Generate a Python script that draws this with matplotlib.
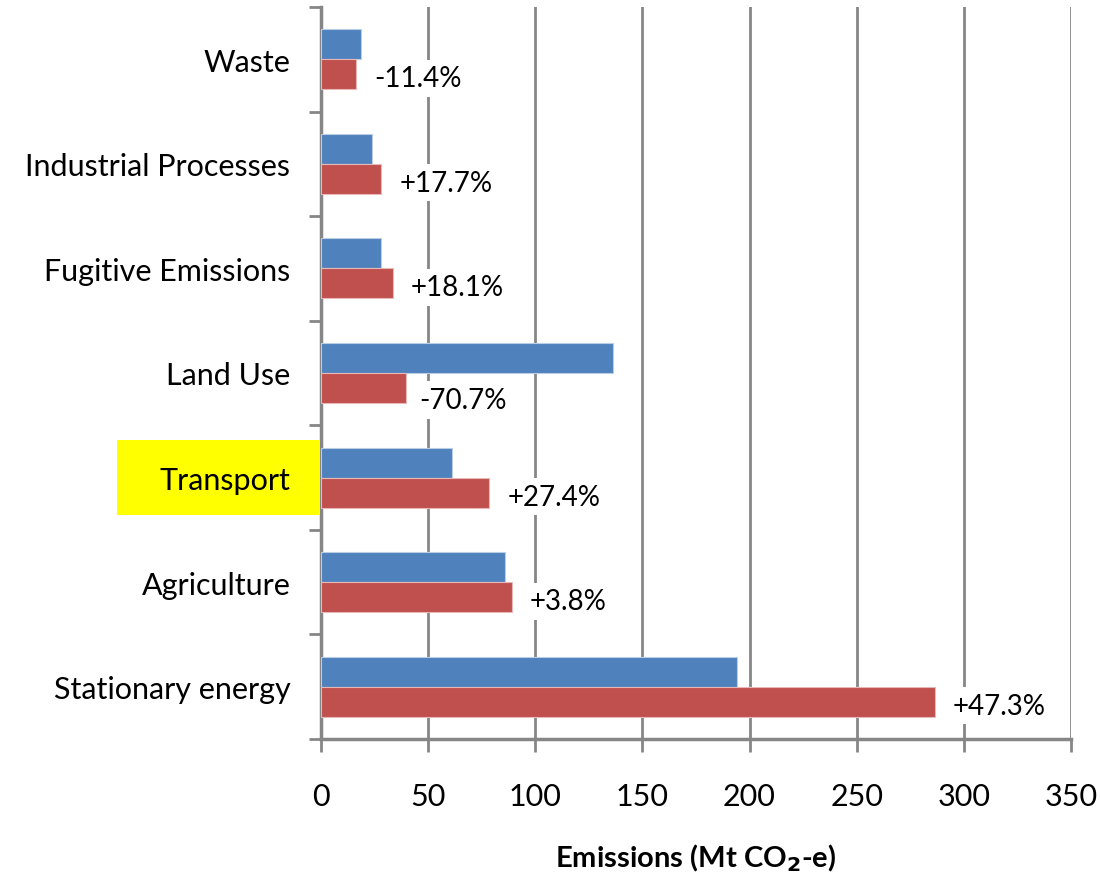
import numpy as np
import matplotlib.pyplot as plt
from matplotlib.patches import Rectangle
import matplotlib.transforms as mtransforms

plt.rcParams['font.family'] = ['Lato', 'DejaVu Sans']

# sectors listed bottom to top
sectors = ['Stationary energy', 'Agriculture', 'Transport', 'Land Use',
           'Fugitive Emissions', 'Industrial Processes', 'Waste']
emissions_1990 = [194.0, 85.9, 61.3, 136.4, 28.1, 23.8, 18.5]
emissions_now = [286.5, 89.1, 78.6, 39.5, 33.5, 28.1, 16.3]
changes = ['+47.3%', '+3.8%', '+27.4%', '-70.7%', '+18.1%', '+17.7%', '-11.4%']

blue = '#4F81BD'
red = '#C0504D'
grid_grey = '#868686'

fig = plt.figure(figsize=(11, 8.78), dpi=100)
ax = fig.add_axes([0.2918, 0.1572, 0.6818, 0.8337])

y = np.arange(len(sectors))
h = 0.287
ax.barh(y + h / 2, emissions_1990, height=h, color=blue, edgecolor='#B9CDE5',
        linewidth=0.8, zorder=3)
ax.barh(y - h / 2, emissions_now, height=h, color=red, edgecolor='#E6B9B8',
        linewidth=0.8, zorder=3)

# change labels sit just right of the recent bar; when the older bar
# reaches past that spot the label drops a little to stay clear of it
for yi, old, new, txt in zip(y, emissions_1990, emissions_now, changes):
    dx, dy = 18, -4
    if old > new + 20:
        dx, dy = 14, -12
    ax.annotate(txt, xy=(new, yi - h / 2), xytext=(dx, dy),
                textcoords='offset pixels', ha='left', va='center',
                fontsize=20, zorder=4,
                bbox=dict(boxstyle='square,pad=0.2', fc='white', ec='none'))

ax.set_xlim(0, 350)
ax.set_ylim(-0.5, len(sectors) - 0.5)
ax.set_xticks(np.arange(0, 351, 50))
ax.set_yticks(y)
ax.set_yticklabels(sectors)
ax.set_yticks(np.arange(-0.5, len(sectors)), minor=True)

ax.xaxis.grid(True, color=grid_grey, linewidth=2, zorder=0)
ax.set_axisbelow(True)
for side in ['top', 'right']:
    ax.spines[side].set_visible(False)
for side in ['left', 'bottom']:
    ax.spines[side].set_color(grid_grey)
    ax.spines[side].set_linewidth(2.5)

ax.tick_params(axis='x', length=9, width=2, color=grid_grey, pad=22,
               labelsize=22)
ax.tick_params(axis='y', which='major', length=0, pad=22, labelsize=22)
ax.tick_params(axis='y', which='minor', length=9, width=2, color=grid_grey)

# yellow highlight behind the Transport label
trans = mtransforms.blended_transform_factory(ax.transAxes, ax.transData)
ax.add_patch(Rectangle((-0.272, 2 - 0.36), 0.269, 0.72, transform=trans,
                       facecolor='#FFFF00', edgecolor='none', clip_on=False,
                       zorder=0))

fig.text(0.632, 0.0228, r'Emissions (Mt CO$_\mathbf{2}$-e)', ha='center',
         va='center', fontsize=21, fontweight='bold')

fig.savefig('out.png', dpi=100)
